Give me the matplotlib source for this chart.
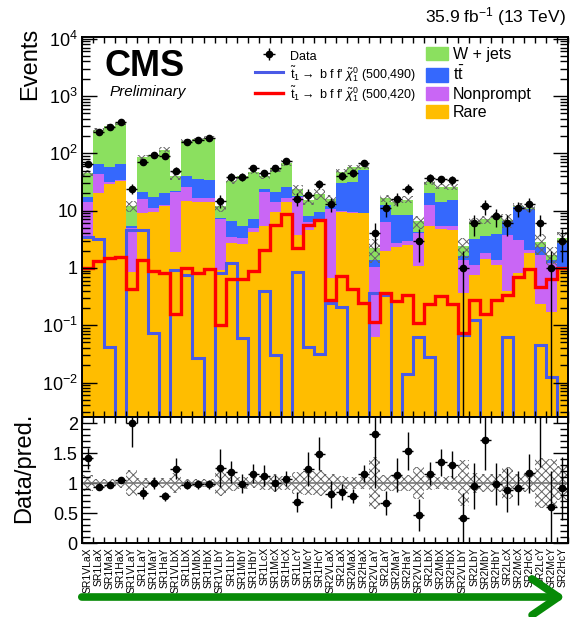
import numpy as np
import matplotlib
matplotlib.use("Agg")
import matplotlib.pyplot as plt
from matplotlib.patches import Patch, FancyArrowPatch
from matplotlib.lines import Line2D
from matplotlib.ticker import FixedLocator, FuncFormatter, MultipleLocator, NullFormatter

plt.rcParams['font.family'] = ['Liberation Sans', 'DejaVu Sans']
plt.rcParams['mathtext.fontset'] = 'custom'
plt.rcParams['mathtext.rm'] = 'Liberation Sans'
plt.rcParams['mathtext.it'] = 'Liberation Sans:italic'
plt.rcParams['mathtext.bf'] = 'Liberation Sans:bold'
plt.rcParams['hatch.linewidth'] = 0.7

# signal regions
regions = ['SR1VLaX', 'SR1LaX', 'SR1MaX', 'SR1HaX', 'SR1VLaY', 'SR1LaY', 'SR1MaY', 'SR1HaY',
           'SR1VLbX', 'SR1LbX', 'SR1MbX', 'SR1HbX', 'SR1VLbY', 'SR1LbY', 'SR1MbY', 'SR1HbY',
           'SR1LcX', 'SR1McX', 'SR1HcX', 'SR1LcY', 'SR1McY', 'SR1HcY',
           'SR2VLaX', 'SR2LaX', 'SR2MaX', 'SR2HaX', 'SR2VLaY', 'SR2LaY', 'SR2MaY', 'SR2HaY',
           'SR2VLbX', 'SR2LbX', 'SR2MbX', 'SR2HbX', 'SR2VLbY', 'SR2LbY', 'SR2MbY', 'SR2HbY',
           'SR2LcX', 'SR2McX', 'SR2HcX', 'SR2LcY', 'SR2McY', 'SR2HcY']

# background yields per region
rare = [3.5, 20, 29, 33, 0.86, 9.0, 9.6, 12, 1.9, 15, 14.4, 14.4, 0.92, 2.7, 2.6, 4.3,
        5.3, 9.6, 14.4, 3.8, 4.6, 6.4,
        0.66, 9.4, 9.2, 9.0, 0.063, 2.0, 2.35, 2.5, 1.1, 5.3, 4.7, 4.6, 0.36, 0.75, 1.45, 1.13,
        0.39, 0.81, 1.8, 0.23, 0.17, 1.05]
nonprompt = [10.5, 24, 3, 1.5, 4.14, 6.8, 1.4, 0.6, 19.1, 11, 2.0, 2.0, 6.18, 0.7, 0.7, 0.6,
             16.2, 4.8, 2.0, 13.8, 1.6, 0.8,
             9.94, 0.4, 0.4, 0.2, 0.987, 4.2, 0.42, 0.5, 2.9, 7.3, 0.7, 0.7, 1.04, 0.38, 0.35, 0.22,
             3.41, 2.29, 0.26, 1.46, 1.03, 0.0]
ttbar = [3.0, 21, 26, 30.5, 0.4, 5.7, 6.6, 7.4, 1.0, 14, 18.6, 17.6, 0.4, 3.3, 2.1, 2.2,
         2.1, 7.1, 9.6, 0.2, 1.7, 2.4,
         1.4, 20.2, 22.4, 41.8, 0.35, 6.4, 5.63, 5.4, 0.3, 8.0, 9.0, 10.1, 0.2, 2.07, 1.8, 2.55,
         2.7, 8.4, 8.74, 0.61, 0.18, 1.65]
wjets = [29, 191, 242, 275, 6.6, 63.5, 76.4, 96, 18.5, 125, 140, 154, 4.5, 26.3, 34.1, 40.4,
         16.4, 33.5, 43, 5.7, 7.5, 9.9,
         4.0, 17, 25, 7, 0.8, 3.9, 5.7, 7.2, 2.2, 11.4, 11.6, 10.6, 0.8, 3.1, 3.4, 4.2,
         0.3, 0.5, 0.4, 0.5, 0.29, 0.6]

# relative uncertainty on the total prediction
bkg_unc = [0.13, 0.07, 0.06, 0.09, 0.21, 0.09, 0.09, 0.09, 0.16, 0.07, 0.07, 0.07, 0.22, 0.13,
           0.10, 0.09, 0.12, 0.15, 0.12, 0.19, 0.20, 0.21,
           0.15, 0.11, 0.10, 0.10, 0.44, 0.14, 0.13, 0.13, 0.26, 0.11, 0.10, 0.11, 0.38, 0.17,
           0.15, 0.15, 0.27, 0.15, 0.15, 0.41, 0.40, 0.28]

data = [65, 240, 292, 357, 24, 71, 94, 90, 50, 160, 171, 184, 15, 39, 39, 55,
        45, 55, 74, 16, 19, 29,
        13, 40, 45, 67, 4, 11, 16, 24, 3, 37, 35, 34, 1, 6, 12, 8, 6, 11, 13, 6, 1, 3]

# signal points (m_stop, m_LSP)
sig_500_490 = [3.5, 3.2, 0.042, 0, 4.6, 4.6, 0.074, 0, 0.92, 0.75, 0.027, 0, 0.81, 1.24, 0.059, 0,
               0.39, 0.030, 0, 0.86, 0.042, 0.032,
               0.24, 0.206, 0, 0, 0.37, 0.33, 0, 0.014, 0.062, 0.028, 0, 0, 0.068, 0.124, 0, 0,
               0.063, 0, 0, 0.046, 0.0125, 0]
sig_500_420 = [0.99, 1.32, 1.51, 1.58, 0.42, 1.38, 0.89, 0.83, 0.16, 0.99, 0.83, 0.95, 0.10, 0.63,
               0.63, 0.88, 2.06, 5.6, 8.8, 2.2, 5.5, 6.9,
               0.27, 0.72, 0.42, 0.24, 0.113, 0.37, 0.26, 0.34, 0.11, 0.235, 0.32, 0.235, 0.074,
               0.28, 0.16, 0.28, 0.34, 0.69, 0.97, 0.47, 0.65, 1.01]

c_wjets = '#8be05f'
c_tt = '#3568fd'
c_np = '#c966f5'
c_rare = '#ffbd00'
c_sig1 = '#4a5ae6'
c_sig2 = '#ff0000'

n = len(regions)
edges = np.arange(n + 1)
centers = edges[:-1] + 0.5
stack = [np.array(rare), np.array(nonprompt), np.array(ttbar), np.array(wjets)]
total = np.sum(stack, axis=0)
unc = np.array(bkg_unc)
d = np.array(data, dtype=float)
derr = np.sqrt(d)

W, H = 571, 617
fig = plt.figure(figsize=(W / 100, H / 100), dpi=100)
ax = fig.add_axes([82 / W, 1 - 417 / H, 486 / W, 380 / H])
axr = fig.add_axes([82 / W, 1 - 543 / H, 486 / W, 126 / H])

# stacked backgrounds
base = np.full(n, 1e-6)
for vals, col in zip(stack, [c_rare, c_np, c_tt, c_wjets]):
    top = base + vals
    ax.stairs(top, edges, baseline=base, fill=True, color=col, lw=0)
    base = top

ax.stairs(total * (1 + unc), edges, baseline=total * (1 - unc), fill=True,
          facecolor='none', edgecolor='#666666', hatch='xxxx', lw=0)

s1 = np.array(sig_500_490)
s2 = np.array(sig_500_420)
ax.stairs(np.where(s1 > 0, s1, 1e-6), edges, baseline=None, color=c_sig1, lw=2.2)
ax.stairs(np.where(s2 > 0, s2, 1e-6), edges, baseline=None, color=c_sig2, lw=2.4)

eb = ax.errorbar(centers, d, yerr=derr, xerr=0.5, fmt='o', color='k', ms=4.5,
                 elinewidth=1.0, capsize=0)

ax.set_yscale('log')
ax.set_xlim(0, n)
ax.set_ylim(2.5e-3, 1.07e4)


def log_label(v, pos):
    e = int(round(np.log10(v)))
    if e == 0:
        return '1'
    if e == 1:
        return '10'
    return r'$10^{%d}$' % e


decades = 10.0 ** np.arange(-3, 5)
minors = np.array([m * dec for dec in decades for m in range(2, 10)])
minors = minors[(minors > 2.5e-3) & (minors < 1.07e4)]
ax.yaxis.set_major_locator(FixedLocator(decades[1:]))
ax.yaxis.set_minor_locator(FixedLocator(minors))
ax.yaxis.set_major_formatter(FuncFormatter(log_label))
ax.yaxis.set_minor_formatter(NullFormatter())
ax.xaxis.set_major_locator(FixedLocator(edges))
ax.set_xticklabels([])
ax.tick_params(axis='y', which='major', direction='in', length=11, width=1, labelsize=13,
               left=True, right=True, pad=3)
ax.tick_params(axis='y', which='minor', direction='in', length=6, width=1, left=True, right=True)
ax.tick_params(axis='x', which='major', direction='in', length=4, width=1, top=True, bottom=True)

# ratio panel
axr.stairs(1 + unc, edges, baseline=1 - unc, fill=True, facecolor='none',
           edgecolor='#666666', hatch='xxxx', lw=0)
axr.axhline(1, color='#777777', lw=1.2)
axr.errorbar(centers, d / total, yerr=derr / total, xerr=0.5, fmt='o', color='k', ms=4.5,
             elinewidth=1.0, capsize=0)
axr.set_xlim(0, n)
axr.set_ylim(0, 2.1)
axr.yaxis.set_major_locator(FixedLocator([0, 0.5, 1, 1.5, 2]))
axr.yaxis.set_minor_locator(FixedLocator(np.arange(1, 21) * 0.1))
axr.yaxis.set_major_formatter(FuncFormatter(lambda v, p: '%g' % v))
axr.set_xticks(centers)
axr.set_xticklabels(regions, rotation=90, fontsize=7.5)
axr.xaxis.set_minor_locator(FixedLocator(edges))
axr.tick_params(axis='x', which='major', length=0, pad=3)
axr.tick_params(axis='x', which='minor', direction='in', length=4, width=1, top=True, bottom=True)
axr.tick_params(axis='y', which='major', direction='in', length=11, width=1, labelsize=13,
                left=True, right=True, pad=3)
axr.tick_params(axis='y', which='minor', direction='in', length=6, width=1, left=True, right=True)

for a in (ax, axr):
    for sp in a.spines.values():
        sp.set_linewidth(1.4)

# axis titles and labels
fig.text(30 / W, 1 - 28 / H, 'Events', rotation=90, ha='center', va='top', fontsize=17)
fig.text(24 / W, 1 - 468 / H, 'Data/pred.', rotation=90, ha='center', va='center', fontsize=17)
fig.text(105 / W, 1 - 66 / H, 'CMS', ha='left', va='center', fontsize=26, weight='bold')
fig.text(110 / W, 1 - 92 / H, 'Preliminary', ha='left', va='center', fontsize=11, style='italic')
fig.text(566 / W, 1 - 17 / H, r'35.9 fb$^{-1}$ (13 TeV)', ha='right', va='center', fontsize=12.5)

# legends
sig_handles = [eb,
               Line2D([], [], color=c_sig1, lw=2.2),
               Line2D([], [], color=c_sig2, lw=2.4)]
sig_labels = ['Data',
              r"$\tilde{\rm t}_{1}\rightarrow$ b f f' $\tilde{\chi}^{0}_{1}$ (500,490)",
              r"$\tilde{\rm t}_{1}\rightarrow$ b f f' $\tilde{\chi}^{0}_{1}$ (500,420)"]
fig.legend(sig_handles, sig_labels, loc='upper left', bbox_to_anchor=(255 / W, 1 - 48 / H),
           frameon=False, fontsize=9, handlelength=2.2, handleheight=1.5, handletextpad=0.6,
           labelspacing=0.05, borderpad=0, borderaxespad=0)
bkg_handles = [Patch(color=c) for c in (c_wjets, c_tt, c_np, c_rare)]
bkg_labels = ['W + jets', r't$\bar{\rm t}$', 'Nonprompt', 'Rare']
fig.legend(bkg_handles, bkg_labels, loc='upper left', bbox_to_anchor=(426 / W, 1 - 47 / H),
           frameon=False, fontsize=11.5, handlelength=1.4, handleheight=0.9, handletextpad=0.3,
           labelspacing=0.2, borderpad=0, borderaxespad=0)

arrow = FancyArrowPatch((79 / W, 1 - 597 / H), (568 / W, 1 - 597 / H), transform=fig.transFigure,
                        arrowstyle='->,head_length=0.95,head_width=0.65', mutation_scale=20,
                        lw=5.5, color='#078a07')
fig.patches.append(arrow)

fig.savefig('out.png', dpi=100)
